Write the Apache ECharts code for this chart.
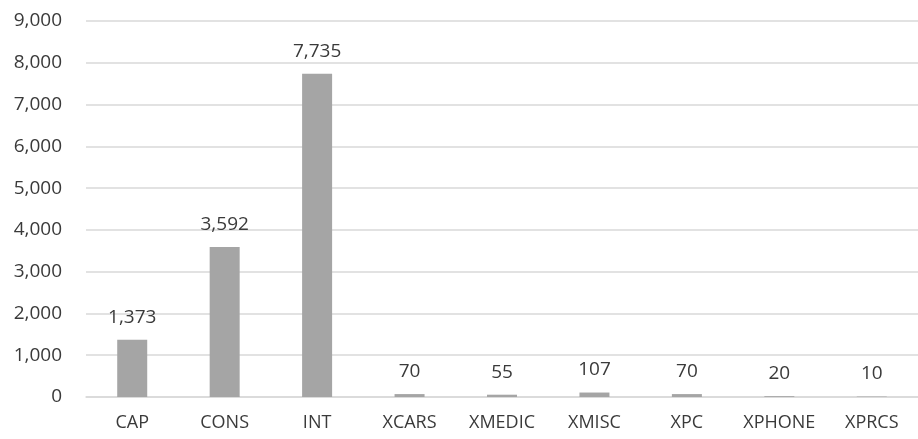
<!DOCTYPE html>
<html>
<head>
<meta charset="utf-8">
<script src="https://cdn.jsdelivr.net/npm/echarts@6/dist/echarts.min.js"></script>
<style>html,body{margin:0;padding:0;background:#fff}#chart{width:918px;height:439px}</style>
</head>
<body>
<div id="chart"></div>
<script>
// Record counts per category
const categories = ['CAP', 'CONS', 'INT', 'XCARS', 'XMEDIC', 'XMISC', 'XPC', 'XPHONE', 'XPRCS'];
const counts = [1373, 3592, 7735, 70, 55, 107, 70, 20, 10];
const yTicks = { min: 0, max: 9000, interval: 1000 };

const fmt = v => Number(v).toLocaleString('en-US');
const font = '"Open Sans", "Noto Sans", sans-serif';
const textColor = '#3a3a3a';

const chart = echarts.init(document.getElementById('chart'));
chart.setOption({
  animation: false,
  grid: { left: 86, right: -7, top: 21, bottom: 42, containLabel: false },
  xAxis: {
    type: 'category',
    data: categories,
    axisLine: { show: true, lineStyle: { color: '#D9D9D9', width: 1.5 } },
    axisTick: { show: false },
    axisLabel: { color: textColor, fontSize: 18, fontFamily: font, margin: 17, interval: 0, hideOverlap: false }
  },
  yAxis: {
    type: 'value',
    min: yTicks.min, max: yTicks.max, interval: yTicks.interval,
    axisLine: { show: false },
    axisTick: { show: false },
    splitLine: { lineStyle: { color: '#D9D9D9', width: 1.5 } },
    axisLabel: { color: textColor, fontSize: 19, fontFamily: font, margin: 24, formatter: fmt }
  },
  series: [{
    type: 'bar',
    data: counts,
    barWidth: 30,
    itemStyle: { color: '#A5A5A5' },
    label: {
      show: true, position: 'top', distance: 13,
      color: textColor, fontSize: 19, fontFamily: font,
      formatter: p => fmt(p.value)
    }
  }]
});
</script>
</body>
</html>
